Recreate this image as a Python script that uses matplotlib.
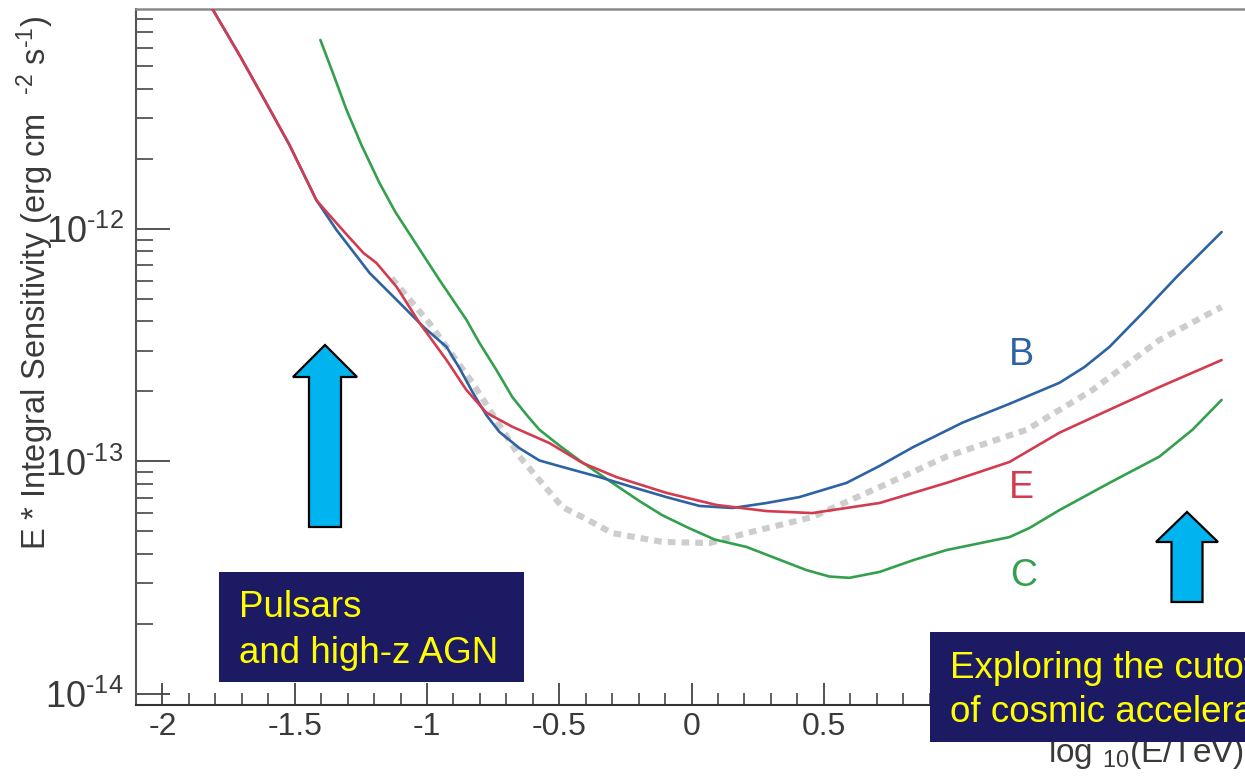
import matplotlib
matplotlib.use("Agg")
import matplotlib.pyplot as plt
from matplotlib.patches import Rectangle, Polygon
from matplotlib.ticker import (MultipleLocator, LogLocator, FixedLocator, FuncFormatter,
                               NullFormatter)

plt.rcParams['font.family'] = ['Liberation Sans', 'DejaVu Sans']
plt.rcParams['mathtext.fontset'] = 'custom'
plt.rcParams['mathtext.rm'] = 'Liberation Sans'
plt.rcParams['mathtext.it'] = 'Liberation Sans:italic'
plt.rcParams['mathtext.bf'] = 'Liberation Sans:bold'
plt.rcParams['mathtext.sf'] = 'Liberation Sans'

# ---- sensitivity curves: x = log10(E/TeV), y = E * integral sensitivity (erg cm^-2 s^-1)
b_logE = [-1.85, -1.811, -1.709, -1.614, -1.520, -1.418, -1.342, -1.217, -1.115, -1.013,
          -0.926, -0.877, -0.828, -0.775, -0.726, -0.650, -0.575, -0.473, -0.348,
          -0.223, -0.095, 0.030, 0.155, 0.284, 0.408, 0.586, 0.711, 0.836, 1.025,
          1.202, 1.391, 1.486, 1.580, 1.705, 1.834, 2.004]
b_sens = [1.06e-11, 8.83e-12, 5.60e-12, 3.59e-12, 2.30e-12, 1.33e-12, 9.9e-13, 6.47e-13, 4.96e-13, 3.79e-13,
          3.11e-13, 2.52e-13, 1.99e-13, 1.58e-13, 1.34e-13, 1.14e-13, 1.01e-13, 9.37e-14, 8.57e-14,
          7.76e-14, 7.03e-14, 6.44e-14, 6.31e-14, 6.63e-14, 7.03e-14, 8.09e-14, 9.57e-14, 1.15e-13, 1.47e-13,
          1.77e-13, 2.18e-13, 2.55e-13, 3.11e-13, 4.35e-13, 6.22e-13, 9.7e-13]

e_logE = [-1.85, -1.811, -1.709, -1.614, -1.520, -1.418, -1.395, -1.312, -1.240, -1.191, -1.115,
          -1.028, -0.926, -0.851, -0.775, -0.677, -0.537, -0.412, -0.284, -0.095, 0.095,
          0.284, 0.457, 0.711, 0.964, 1.202, 1.391, 1.580, 1.769, 2.004]
e_sens = [1.06e-11, 8.83e-12, 5.60e-12, 3.59e-12, 2.30e-12, 1.33e-12, 1.24e-12, 9.7e-13, 7.88e-13, 7.14e-13,
          5.64e-13, 3.94e-13, 2.73e-13, 2.03e-13, 1.62e-13, 1.41e-13, 1.20e-13, 9.86e-14, 8.57e-14, 7.33e-14,
          6.50e-14, 6.12e-14, 6.0e-14, 6.63e-14, 8.09e-14, 9.95e-14, 1.33e-13, 1.67e-13, 2.09e-13, 2.73e-13]

c_logE = [-1.403, -1.357, -1.304, -1.248, -1.180, -1.119, -1.051, -0.953, -0.851, -0.802,
          -0.738, -0.677, -0.624, -0.575, -0.499, -0.423, -0.299, -0.197, -0.110, -0.008,
          0.087, 0.208, 0.333, 0.435, 0.522, 0.597, 0.711, 0.843, 0.964, 1.089,
          1.202, 1.278, 1.391, 1.580, 1.769, 1.894, 2.004]
c_sens = [6.5e-12, 4.73e-12, 3.25e-12, 2.30e-12, 1.58e-12, 1.18e-12, 8.97e-13, 6.04e-13, 4.07e-13, 3.24e-13,
          2.48e-13, 1.89e-13, 1.59e-13, 1.37e-13, 1.17e-13, 1.01e-13, 8.09e-14, 6.76e-14, 5.87e-14, 5.16e-14,
          4.62e-14, 4.29e-14, 3.78e-14, 3.41e-14, 3.20e-14, 3.16e-14, 3.35e-14, 3.78e-14, 4.16e-14, 4.45e-14,
          4.73e-14, 5.18e-14, 6.18e-14, 8.09e-14, 1.05e-13, 1.37e-13, 1.84e-13]

goal_logE = [-1.134, -0.991, -0.828, -0.650, -0.575, -0.488, -0.405, -0.299, -0.110, 0.068,
             0.208, 0.457, 0.711, 0.964, 1.267, 1.516, 1.769, 2.004]
goal_sens = [6.15e-13, 3.94e-13, 2.18e-13, 1.05e-13, 8.32e-14, 6.37e-14, 5.71e-14, 4.92e-14, 4.51e-14, 4.46e-14,
             4.92e-14, 5.77e-14, 7.76e-14, 1.05e-13, 1.37e-13, 2.03e-13, 3.33e-13, 4.62e-13]

curve_labels = ['B', 'E', 'C']
label_logE = [1.248, 1.248, 1.255]
label_sens = [2.87e-13, 7.69e-14, 3.22e-14]

y_major = [1e-14, 1e-13, 1e-12]
y_exponents = [-14, -13, -12]

COL_B = '#2d62a3'
COL_E = '#d33c4f'
COL_C = '#33a04d'
COL_GOAL = '#cdcdcd'
TXT = '#3a3a3a'

W, H = 1245, 779
fig = plt.figure(figsize=(W / 100, H / 100), dpi=100)
fig.patch.set_facecolor('white')


def fpos(x, y):
    """figure pixel (from top-left) -> figure fraction"""
    return x / W, 1 - y / H


ax = fig.add_axes([136 / W, 1 - 705 / H, 1111 / W, 696 / H])
ax.set_xlim(-2.1, 2.1)
ax.set_yscale('log')
ax.set_ylim(8.97e-15, 8.83e-12)

line_kw = dict(lw=1.9, solid_joinstyle='round', solid_capstyle='round')
ax.plot(goal_logE, goal_sens, color=COL_GOAL, lw=4.4, dashes=(1.25, 1.0),
        dash_capstyle='butt', dash_joinstyle='round', zorder=2)
ax.plot(c_logE, c_sens, color=COL_C, zorder=3, **line_kw)
ax.plot(b_logE, b_sens, color=COL_B, zorder=4, **line_kw)
ax.plot(e_logE, e_sens, color=COL_E, zorder=5, **line_kw)

for lab, lx, ly, col in zip(curve_labels, label_logE, label_sens, [COL_B, COL_E, COL_C]):
    ax.text(lx, ly, lab, color=col, fontsize=27, ha='center', va='center', zorder=6)

# axes frame
ax.spines['right'].set_visible(False)
ax.spines['top'].set_color('#8a8a8a')
ax.spines['top'].set_linewidth(1.8)
ax.spines['left'].set_color('#555555')
ax.spines['left'].set_linewidth(1.5)
ax.spines['bottom'].set_color('#333333')
ax.spines['bottom'].set_linewidth(1.5)


def xfmt(v, pos):
    # labels from 1 upwards sit under the annotation box
    return '' if v > 0.99 else '%g' % round(v, 3)


ax.xaxis.set_major_locator(MultipleLocator(0.5))
ax.xaxis.set_minor_locator(MultipleLocator(0.1))
ax.xaxis.set_major_formatter(FuncFormatter(xfmt))
ax.yaxis.set_major_locator(FixedLocator(y_major))
ax.yaxis.set_major_formatter(FuncFormatter(
    lambda v, pos: r'$\mathdefault{10^{\text{-%d}}}$' % abs(y_exponents[pos])))
ax.yaxis.set_minor_locator(LogLocator(base=10, subs=range(2, 10)))
ax.yaxis.set_minor_formatter(NullFormatter())

ax.tick_params(axis='y', which='major', direction='in', length=24.5, width=1.3,
               pad=9, labelsize=26, colors='#444444', labelcolor=TXT, right=False)
ax.tick_params(axis='y', which='minor', direction='in', length=12.2, width=1.3,
               colors='#555555', right=False)
ax.tick_params(axis='x', which='major', direction='in', length=16, width=1.3,
               pad=5, labelsize=23, colors='#444444', labelcolor=TXT, top=False)
ax.tick_params(axis='x', which='minor', direction='in', length=8.5, width=1.3,
               colors='#555555', top=False)

# axis titles
fig.text(*fpos(35, 283), r'E * Integral Sensitivity (erg cm  $^{\text{-2}}$ s$^{\text{-1}}$)',
         rotation=90, fontsize=23.5, color=TXT, ha='center', va='center')
fig.text(*fpos(1048, 762), r'log $_{10}$(E/TeV)', fontsize=24, color=TXT,
         ha='left', va='baseline', zorder=1)

# annotation boxes
BOX = '#1c1a62'
YEL = '#ffff00'
x0, y0 = fpos(219, 682)
x1, y1 = fpos(524, 572)
fig.patches.append(Rectangle((x0, y0), x1 - x0, y1 - y0, transform=fig.transFigure,
                             facecolor=BOX, edgecolor='none', zorder=5))
fig.text(*fpos(239, 617), 'Pulsars', fontsize=26.5, color=YEL, ha='left', va='baseline', zorder=6)
fig.text(*fpos(239, 663), 'and high-z AGN', fontsize=26.5, color=YEL, ha='left', va='baseline', zorder=6)

x0, y0 = fpos(930, 742)
x1, y1 = fpos(1260, 632)
fig.patches.append(Rectangle((x0, y0), x1 - x0, y1 - y0, transform=fig.transFigure,
                             facecolor=BOX, edgecolor='none', zorder=5))
fig.text(*fpos(950, 678), 'Exploring the cutoff', fontsize=26.5, color=YEL, ha='left', va='baseline',
         zorder=6, clip_on=True)
fig.text(*fpos(950, 722), 'of cosmic accelerators', fontsize=26.5, color=YEL, ha='left', va='baseline',
         zorder=6, clip_on=True)


# block arrows pointing up
def up_arrow(cx, tip, head_base, bottom, head_half, shaft_half):
    pts = [(cx, tip), (cx + head_half, head_base), (cx + shaft_half, head_base),
           (cx + shaft_half, bottom), (cx - shaft_half, bottom), (cx - shaft_half, head_base),
           (cx - head_half, head_base)]
    fig.patches.append(Polygon([fpos(x, y) for x, y in pts], closed=True,
                               transform=fig.transFigure, facecolor='#00b4f0',
                               edgecolor='black', linewidth=1.6, joinstyle='miter', zorder=5))


up_arrow(325, 345, 377, 527, 32, 16)
up_arrow(1187, 512, 542, 602, 31, 15.5)

fig.savefig('out.png', dpi=100)
